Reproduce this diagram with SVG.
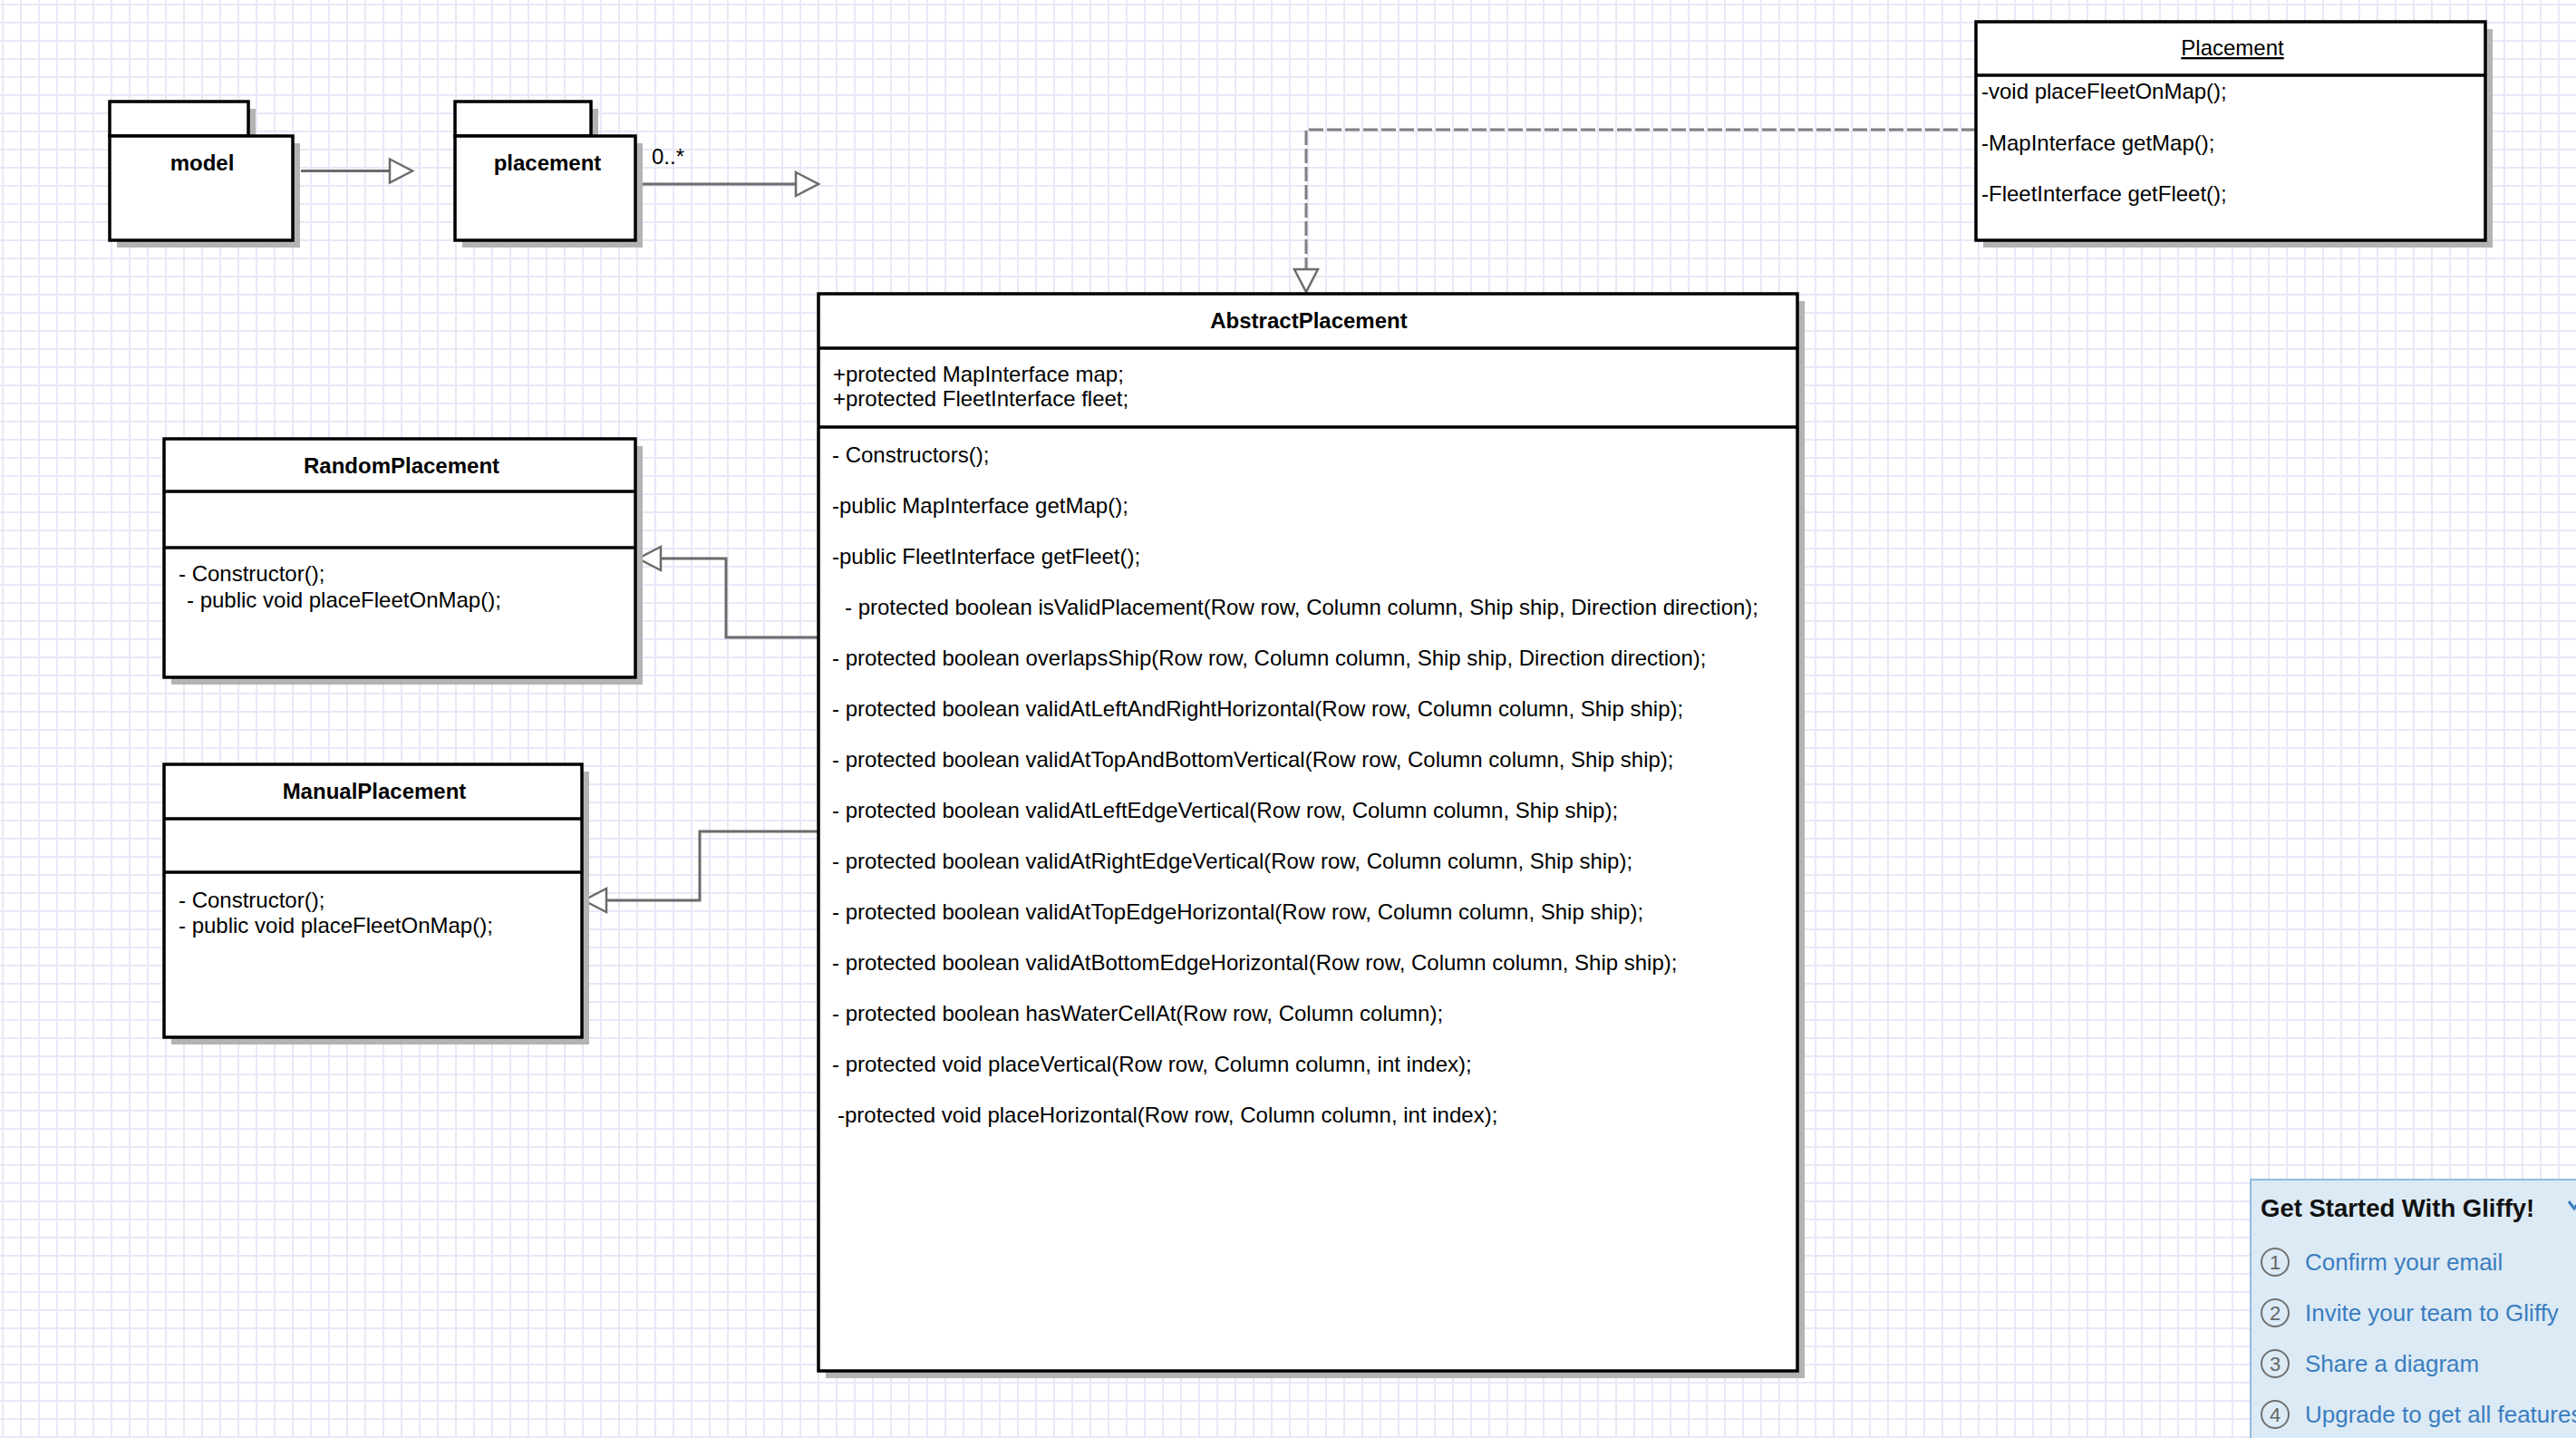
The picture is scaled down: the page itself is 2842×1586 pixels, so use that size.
<svg xmlns="http://www.w3.org/2000/svg" width="2842" height="1586" viewBox="0 0 2842 1586">
  <defs>
    <pattern id="grid" x="2" y="4" width="20" height="20" patternUnits="userSpaceOnUse">
      <rect width="20" height="20" fill="#ffffff"/>
      <path d="M0 1H20M1 0V20" stroke="#e8e8f9" stroke-width="2" fill="none"/>
    </pattern>
    <marker id="tri" markerUnits="userSpaceOnUse" markerWidth="30" markerHeight="30" refX="25" refY="13" orient="auto" overflow="visible">
      <path d="M0 0L25 13L0 26Z" fill="#ffffff" stroke="#6b6b6b" stroke-width="2.5" stroke-linejoin="miter"/>
    </marker>
    <style>
      .box { fill: #ffffff; stroke: #000000; stroke-width: 3.5; }
      .sep { stroke: #000000; stroke-width: 3.5; fill: none; }
      .shadow { fill: #b3b3b3; }
      .t { font-family: "Liberation Sans", Arial, Helvetica, sans-serif; font-size: 24px; fill: #000000; }
      .b { font-weight: bold; }
      .c { text-anchor: middle; }
      .conn { fill: none; stroke: #6b6b6b; stroke-width: 3; }
      .dash { stroke: #808080; stroke-dasharray: 16 4; }
      .panel-t { font-family: "Liberation Sans", Arial, Helvetica, sans-serif; }
    </style>
  </defs>

  <!-- canvas grid -->
  <rect x="0" y="0" width="2842" height="1586" fill="url(#grid)"/>

  <!-- connectors -->
  <g id="connectors">
    <path class="conn" d="M332 188.5H455" marker-end="url(#tri)"/>
    <path class="conn" d="M707 203H903" marker-end="url(#tri)"/>
    <path class="conn dash" d="M2180 143H1441V322" marker-end="url(#tri)"/>
    <path class="conn" d="M903 703H801V616H704" marker-end="url(#tri)"/>
    <path class="conn" d="M903 917H772V993H644" marker-end="url(#tri)"/>
  </g>

  <!-- package: model -->
  <g id="pkg-model">
    <rect class="shadow" x="129" y="120" width="153" height="38"/>
    <rect class="shadow" x="129" y="158" width="202" height="115"/>
    <rect class="box" x="121" y="112" width="153" height="38"/>
    <rect class="box" x="121" y="150" width="202" height="115"/>
    <text class="t b c" x="223" y="188">model</text>
  </g>

  <!-- package: placement -->
  <g id="pkg-placement">
    <rect class="shadow" x="510" y="120" width="150" height="38"/>
    <rect class="shadow" x="510" y="158" width="199" height="115"/>
    <rect class="box" x="502" y="112" width="150" height="38"/>
    <rect class="box" x="502" y="150" width="199" height="115"/>
    <text class="t b c" x="604" y="188">placement</text>
    <text class="t" x="719" y="181">0..*</text>
  </g>

  <!-- interface: Placement -->
  <g id="cls-placement-interface">
    <rect class="shadow" x="2188" y="32" width="562" height="241"/>
    <rect class="box" x="2180" y="24" width="562" height="241"/>
    <line class="sep" x1="2180" y1="83" x2="2742" y2="83"/>
    <text class="t c" x="2463" y="61" text-decoration="underline">Placement</text>
    <text class="t" x="2186" y="109">-void placeFleetOnMap();</text>
    <text class="t" x="2186" y="166">-MapInterface getMap();</text>
    <text class="t" x="2186" y="222">-FleetInterface getFleet();</text>
  </g>

  <!-- class: AbstractPlacement -->
  <g id="cls-abstract-placement">
    <rect class="shadow" x="911" y="332" width="1080" height="1188"/>
    <rect class="box" x="903" y="324" width="1080" height="1188"/>
    <line class="sep" x1="903" y1="384" x2="1983" y2="384"/>
    <line class="sep" x1="903" y1="471" x2="1983" y2="471"/>
    <text class="t b c" x="1444" y="362">AbstractPlacement</text>
    <text class="t" x="919" y="421">+protected MapInterface map;</text>
    <text class="t" x="919" y="448">+protected FleetInterface fleet;</text>
    <text class="t" x="918" y="510">- Constructors();</text>
    <text class="t" x="918" y="566">-public MapInterface getMap();</text>
    <text class="t" x="918" y="622">-public FleetInterface getFleet();</text>
    <text class="t" x="932" y="678">- protected boolean isValidPlacement(Row row, Column column, Ship ship, Direction direction);</text>
    <text class="t" x="918" y="734">- protected boolean overlapsShip(Row row, Column column, Ship ship, Direction direction);</text>
    <text class="t" x="918" y="790">- protected boolean validAtLeftAndRightHorizontal(Row row, Column column, Ship ship);</text>
    <text class="t" x="918" y="846">- protected boolean validAtTopAndBottomVertical(Row row, Column column, Ship ship);</text>
    <text class="t" x="918" y="902">- protected boolean validAtLeftEdgeVertical(Row row, Column column, Ship ship);</text>
    <text class="t" x="918" y="958">- protected boolean validAtRightEdgeVertical(Row row, Column column, Ship ship);</text>
    <text class="t" x="918" y="1014">- protected boolean validAtTopEdgeHorizontal(Row row, Column column, Ship ship);</text>
    <text class="t" x="918" y="1070">- protected boolean validAtBottomEdgeHorizontal(Row row, Column column, Ship ship);</text>
    <text class="t" x="918" y="1126">- protected boolean hasWaterCellAt(Row row, Column column);</text>
    <text class="t" x="918" y="1182">- protected void placeVertical(Row row, Column column, int index);</text>
    <text class="t" x="924" y="1238">-protected void placeHorizontal(Row row, Column column, int index);</text>
  </g>

  <!-- class: RandomPlacement -->
  <g id="cls-random-placement">
    <rect class="shadow" x="189" y="492" width="520" height="263"/>
    <rect class="box" x="181" y="484" width="520" height="263"/>
    <line class="sep" x1="181" y1="542" x2="701" y2="542"/>
    <line class="sep" x1="181" y1="604" x2="701" y2="604"/>
    <text class="t b c" x="443" y="522">RandomPlacement</text>
    <text class="t" x="197" y="641">- Constructor();</text>
    <text class="t" x="206" y="670">- public void placeFleetOnMap();</text>
  </g>

  <!-- class: ManualPlacement -->
  <g id="cls-manual-placement">
    <rect class="shadow" x="189" y="851" width="461" height="301"/>
    <rect class="box" x="181" y="843" width="461" height="301"/>
    <line class="sep" x1="181" y1="903" x2="642" y2="903"/>
    <line class="sep" x1="181" y1="962" x2="642" y2="962"/>
    <text class="t b c" x="413" y="881">ManualPlacement</text>
    <text class="t" x="197" y="1001">- Constructor();</text>
    <text class="t" x="197" y="1029">- public void placeFleetOnMap();</text>
  </g>

  <!-- onboarding panel -->
  <g id="panel-get-started">
    <rect x="2483" y="1301" width="400" height="320" fill="#dceaf5" stroke="#8fbde0" stroke-width="2"/>
    <text class="panel-t" x="2494" y="1342" font-size="27.5" font-weight="bold" fill="#111111">Get Started With Gliffy!</text>
    <path d="M2834 1325L2840 1333L2846 1325" fill="none" stroke="#3b7dbf" stroke-width="3"/>
    <g fill="none" stroke="#707070" stroke-width="2">
      <circle cx="2510" cy="1392" r="15"/>
      <circle cx="2510" cy="1448" r="15"/>
      <circle cx="2510" cy="1504" r="15"/>
      <circle cx="2510" cy="1560" r="15"/>
    </g>
    <g class="panel-t" font-size="22" fill="#666666" text-anchor="middle">
      <text x="2510" y="1400">1</text>
      <text x="2510" y="1456">2</text>
      <text x="2510" y="1512">3</text>
      <text x="2510" y="1568">4</text>
    </g>
    <g class="panel-t" font-size="26" fill="#3b7dbf">
      <text x="2543" y="1401">Confirm your email</text>
      <text x="2543" y="1457">Invite your team to Gliffy</text>
      <text x="2543" y="1513">Share a diagram</text>
      <text x="2543" y="1569">Upgrade to get all features</text>
    </g>
  </g>
</svg>
